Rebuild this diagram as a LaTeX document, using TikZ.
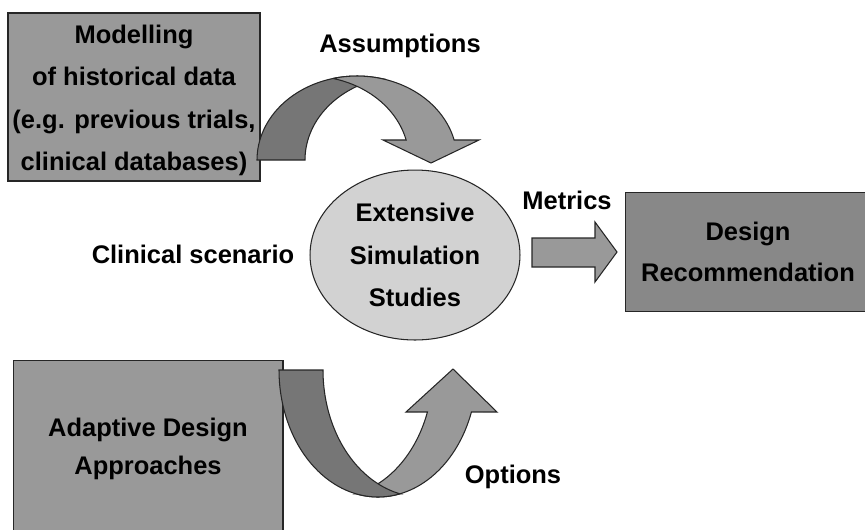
\documentclass[tikz,border=0pt]{standalone}
\usepackage{fontspec}
\setmainfont{Liberation Sans}
\usetikzlibrary{shapes.geometric, positioning}
\definecolor{cBox}{RGB}{153,153,153}
\definecolor{cRec}{RGB}{136,136,136}
\definecolor{cSim}{RGB}{210,210,210}
\definecolor{cBack}{RGB}{118,118,118}

\begin{document}
\begin{tikzpicture}[x=0.02cm, y=-0.02cm, line width=0.6pt,
    font=\bfseries\fontsize{14.5}{23.8}\selectfont,
    box/.style={draw=black!85, rectangle, align=center, inner sep=0pt},
    band back/.style={draw=black!85, fill=cBack},
    band front/.style={draw=black!85, fill=cBox},
    lbl/.style={anchor=base}]
    \useasboundingbox (0,0) rectangle (865,529);
    \clip (0,0) rectangle (865,529);

    \node[box, fill=cBox, minimum width=5.04cm, minimum height=3.36cm] (model) at (134,97) {};
    \node[align=center, inner sep=0pt, font=\bfseries\fontsize{14.5}{24.2}\selectfont] (modeltxt) at (134,100.5)
        {Modelling\\of historical data\\(e.g. previous trials,\\clinical databases)};
    \node[box, fill=cBox, minimum width=5.4cm, minimum height=3.56cm,
        font=\bfseries\fontsize{14.5}{21.5}\selectfont] (adapt) at (148,449)
        {Adaptive Design\\Approaches};

    % ribbon from the data box down onto the simulations
    \filldraw[band back] plot[variable=\t, domain=180:283.9, samples=40] ({357+100*cos(\t)}, {160+84*sin(\t)})
        -- plot[variable=\t, domain=256.1:180, samples=40] ({405+100*cos(\t)}, {160+84*sin(\t)}) -- cycle;
    \filldraw[band front] plot[variable=\t, domain=256.1:346.2, samples=40] ({357+100*cos(\t)}, {160+84*sin(\t)})
        -- (479,140) -- (431,163) -- (383,140)
        -- plot[variable=\t, domain=346.2:283.9, samples=40] ({309+100*cos(\t)}, {160+84*sin(\t)}) -- cycle;

    % ribbon from the design approaches up to the simulations
    \filldraw[band front] plot[variable=\t, domain=102.8:19.3, samples=40] ({378+99*cos(\t)}, {370+127*sin(\t)})
        -- (497,412) -- (453,369) -- (406,412)
        -- plot[variable=\t, domain=19.3:77.2, samples=40] ({334+99*cos(\t)}, {370+127*sin(\t)}) -- cycle;
    \filldraw[band back] plot[variable=\t, domain=180:77.2, samples=40] ({378+99*cos(\t)}, {370+127*sin(\t)})
        -- plot[variable=\t, domain=102.8:180, samples=40] ({422+99*cos(\t)}, {370+127*sin(\t)}) -- cycle;

    \node[ellipse, draw=black!85, fill=cSim, minimum width=4.2cm, minimum height=3.4cm, inner sep=0pt,
        align=center, font=\bfseries\fontsize{14.5}{24.4}\selectfont] (sim) at (415,255)
        {Extensive\\Simulation\\Studies};

    \node[box, fill=cRec, minimum width=4.9cm, minimum height=2.38cm,
        font=\bfseries\fontsize{14.5}{23.4}\selectfont] (rec) at (748,252)
        {Design\\Recommendation};

    % block arrow towards the recommendation
    \filldraw[band front] (532,238) -- (595,238) -- (595,222) -- (617,252)
        -- (595,282) -- (595,267) -- (532,267) -- cycle;

    \node[lbl] (assum) at (400,52) {Assumptions};
    \node[lbl] (metr) at (567,209) {Metrics};
    \node[lbl] (clin) at (193,263) {Clinical scenario};
    \node[lbl] (opt) at (513,483) {Options};
\end{tikzpicture}
\end{document}
